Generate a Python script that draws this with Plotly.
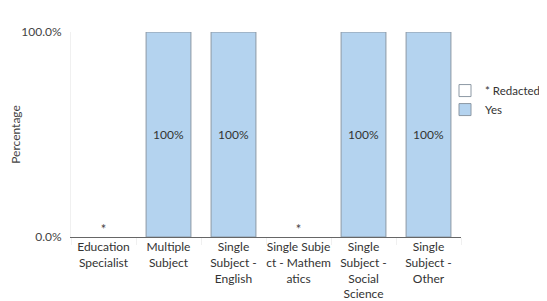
import plotly.graph_objects as go

categories = [
    "Education<br>Specialist",
    "Multiple<br>Subject",
    "Single<br>Subject -<br>English",
    "Single Subje<br>ct - Mathem<br>atics",
    "Single<br>Subject -<br>Social<br>Science",
    "Single<br>Subject -<br>Other",
]
redacted_values = [0, None, None, 0, None, None]
redacted_text = ["*", "", "", "*", "", ""]
yes_values = [None, 1.0, 1.0, None, 1.0, 1.0]
yes_text = ["", "100%", "100%", "", "100%", "100%"]
y_tickvals = [0, 1]

FONT = "Lato, Noto Sans, sans-serif"
EDGE = "#8c98a4"

fig = go.Figure()
# legend entry for redacted (white box)
fig.add_trace(go.Bar(
    x=categories, y=[None] * len(categories), name="* Redacted",
    marker=dict(color="#ffffff", line=dict(color=EDGE, width=1)),
    showlegend=True, hoverinfo="skip",
))
fig.add_trace(go.Bar(
    x=categories, y=yes_values, name="Yes",
    marker=dict(color="#b4d3ef", line=dict(color=EDGE, width=1)),
    text=yes_text, textposition="inside", insidetextanchor="middle",
    textfont=dict(color="#333333", size=12, family=FONT),
    width=0.69,
))
# redacted markers "*"
fig.add_trace(go.Scatter(
    x=categories, y=redacted_values, mode="text", text=redacted_text,
    textposition="top center", showlegend=False, cliponaxis=False,
    textfont=dict(color="#444444", size=13, family=FONT),
))
fig.update_layout(
    width=547, height=301,
    margin=dict(l=63, r=94, t=24, b=72, autoexpand=False),
    barmode="overlay",
    plot_bgcolor="white", paper_bgcolor="white",
    font=dict(family=FONT, size=12, color="#444444"),
    legend=dict(x=0.959, y=0.785, xanchor="left", yanchor="top",
                font=dict(size=11.5, color="#333333", family=FONT),
                itemwidth=30, tracegroupgap=0, bgcolor="rgba(0,0,0,0)"),
)
fig.update_xaxes(showline=True, linecolor="#666666", linewidth=1, automargin=False,
                 showgrid=False, ticks="outside", tickson="boundaries", ticklen=7,
                 tickcolor="#f0f0f0", tickfont=dict(size=12, color="#333333"),
                 tickangle=0, ticklabelstandoff=-1)
fig.update_yaxes(range=[0, 1], tickvals=y_tickvals, tickformat=".1%", automargin=False,
                 showgrid=False, zeroline=False, showline=True,
                 linecolor="#f0f0f0", linewidth=1, ticklabelstandoff=6,
                 tickfont=dict(size=12, color="#444444"),
                 title=dict(text="Percentage", font=dict(size=12, color="#444444"), standoff=0))
fig.write_html("out.html")
